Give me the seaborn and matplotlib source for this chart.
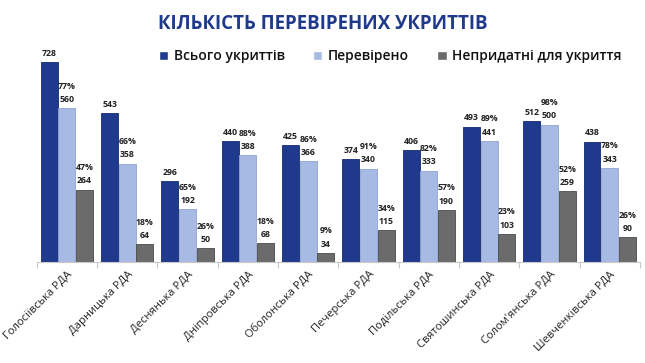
import matplotlib
matplotlib.use("Agg")
import matplotlib.pyplot as plt
import seaborn as sns
import pandas as pd

# Data
districts = ["Голосіївська РДА", "Дарницька РДА", "Деснянька РДА", "Дніпровська РДА",
             "Оболонська РДА", "Печерська РДА", "Подільська РДА", "Святошинська РДА",
             "Солом'янська РДА", "Шевченківська РДА"]
total = [728, 543, 296, 440, 425, 374, 406, 493, 512, 438]
checked = [560, 358, 192, 388, 366, 340, 333, 441, 500, 343]
unfit = [264, 64, 50, 68, 34, 115, 190, 103, 259, 90]
checked_pct = [77, 66, 65, 88, 86, 91, 82, 89, 98, 78]
unfit_pct = [47, 18, 26, 18, 9, 34, 57, 23, 52, 26]
series = ["Всього укриттів", "Перевірено", "Непридатні для укриття"]

colors = ["#1F3A8C", "#A7BAE3", "#6B6B6B"]
edges = ["#142a6e", "#8fa3cf", "#4a4a4a"]

df = pd.DataFrame({"district": districts, series[0]: total,
                   series[1]: checked, series[2]: unfit})
long = df.melt(id_vars="district", var_name="series", value_name="value")

sns.set_theme(style="white")
plt.rcParams["font.family"] = ["Open Sans", "DejaVu Sans"]

fig = plt.figure(figsize=(6.45, 3.63), dpi=100)
ax = fig.add_axes([0.057, 0.278, 0.935, 0.612])

sns.barplot(data=long, x="district", y="value", hue="series", hue_order=series,
            palette=colors, width=0.88, gap=0.04, ax=ax, legend=True, saturation=1)

for cont, ec in zip(ax.containers, edges):
    for bar in cont:
        bar.set_edgecolor(ec)
        bar.set_linewidth(0.6)

# value labels
lab = dict(padding=3, fontsize=6.3, fontweight="bold", color="#222222")
ax.bar_label(ax.containers[0], labels=[str(v) for v in total], **lab)
ax.bar_label(ax.containers[1], labels=[f"{p}%\n{v}" for p, v in zip(checked_pct, checked)],
             linespacing=1.6, **lab)
ax.bar_label(ax.containers[2], labels=[f"{p}%\n{v}" for p, v in zip(unfit_pct, unfit)],
             linespacing=1.6, **lab)

ax.set_ylim(0, 808)
ax.set_xlim(-0.5, len(districts) - 0.5)
ax.set_yticks([])
ax.set_xlabel("")
ax.set_ylabel("")
for s in ["top", "right", "left"]:
    ax.spines[s].set_visible(False)
ax.spines["bottom"].set_color("#c8c8c8")
ax.spines["bottom"].set_linewidth(0.8)

ax.set_xticks(range(len(districts)))
ax.set_xticklabels(districts, rotation=45, ha="right", rotation_mode="anchor",
                   fontsize=8, color="#222222")
ax.tick_params(axis="x", which="major", length=0, pad=5)
ax.set_xticks([i - 0.5 for i in range(len(districts) + 1)], minor=True)
ax.tick_params(axis="x", which="minor", length=4, color="#c8c8c8", width=0.8, bottom=True)

leg = ax.legend(ncol=3, frameon=False, loc="center", bbox_to_anchor=(0.605, 0.845),
                bbox_transform=fig.transFigure, handlelength=0.7,
                handleheight=0.7, handletextpad=0.4, columnspacing=2.0,
                prop={"weight": "semibold", "size": 10})
for t in leg.get_texts():
    t.set_color("#111111")

fig.text(0.5, 0.935, "КІЛЬКІСТЬ ПЕРЕВІРЕНИХ УКРИТТІВ", ha="center", va="center",
         fontsize=13.5, fontweight="bold", color="#1F3A8C")

fig.savefig("out.png", dpi=100)
